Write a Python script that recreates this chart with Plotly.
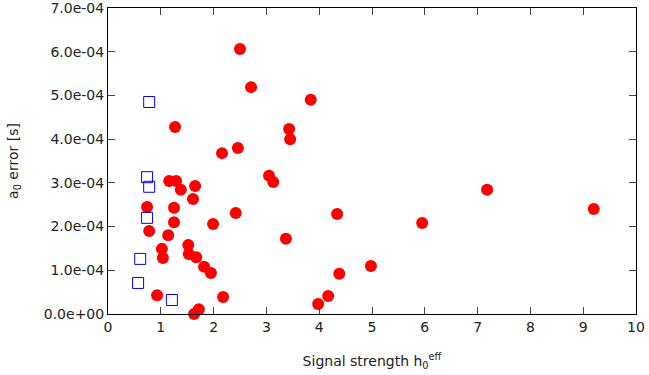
import plotly.graph_objects as go

red_x = [2.50, 2.71, 3.84, 1.27, 3.43, 3.45, 2.46, 2.16, 3.05, 3.13, 7.18, 1.16, 1.29, 1.38,
         1.65, 1.61, 0.74, 1.25, 1.25, 1.99, 2.42, 4.34, 5.95, 9.20, 0.78, 1.14, 3.37, 1.02,
         1.04, 1.52, 1.53, 1.67, 1.82, 1.95, 0.93, 2.18, 1.63, 1.72, 4.98, 4.38, 4.17, 3.98]
red_y = [6.06, 5.19, 4.90, 4.28, 4.23, 4.00, 3.80, 3.68, 3.16, 3.02, 2.84, 3.04, 3.04, 2.84,
         2.93, 2.63, 2.45, 2.43, 2.10, 2.06, 2.31, 2.29, 2.08, 2.40, 1.90, 1.80, 1.72, 1.49,
         1.28, 1.58, 1.37, 1.30, 1.08, 0.94, 0.43, 0.39, 0.00, 0.11, 1.10, 0.92, 0.41, 0.23]
red_y = [v * 1e-4 for v in red_y]

blue_x = [0.78, 0.74, 0.78, 0.74, 0.61, 0.57, 1.21]
blue_y = [4.85, 3.13, 2.91, 2.20, 1.26, 0.71, 0.32]
blue_y = [v * 1e-4 for v in blue_y]

x_ticks = [0, 1, 2, 3, 4, 5, 6, 7, 8, 9, 10]
y_ticks = [0, 1e-4, 2e-4, 3e-4, 4e-4, 5e-4, 6e-4, 7e-4]
y_tick_labels = ["0.0e+00", "1.0e-04", "2.0e-04", "3.0e-04", "4.0e-04", "5.0e-04", "6.0e-04", "7.0e-04"]

fig = go.Figure()
fig.add_trace(go.Scatter(x=red_x, y=red_y, mode="markers",
                         marker=dict(symbol="circle", size=12, color="#ff0000", line=dict(width=0)),
                         cliponaxis=False, showlegend=False))
fig.add_trace(go.Scatter(x=blue_x, y=blue_y, mode="markers",
                         marker=dict(symbol="square-open", size=11, color="#0000ff", line=dict(width=1)),
                         cliponaxis=False, showlegend=False))

axis_common = dict(showgrid=False, zeroline=False, showline=True, linecolor="black", linewidth=1,
                   mirror="ticks", ticks="inside", ticklen=7, tickcolor="#444444", tickwidth=1,
                   automargin=False, ticklabeloverflow="allow",
                   tickfont=dict(family="DejaVu Sans", size=14, color="#222222"))

fig.update_layout(
    width=649, height=375,
    margin=dict(l=108, r=13, t=8, b=61),
    paper_bgcolor="white", plot_bgcolor="white",
    font=dict(family="DejaVu Sans", size=14, color="#222222"),
    xaxis=dict(range=[0, 10.0001], tickvals=x_ticks, ticktext=[str(v) for v in x_ticks],
               title=dict(text="Signal strength h<sub>0</sub><sup>eff</sup>", standoff=22,
                          font=dict(family="DejaVu Sans", size=14)),
               **axis_common),
    yaxis=dict(range=[0, 7.0001e-4], tickvals=y_ticks, ticktext=y_tick_labels,
               title=dict(text="a<sub>0</sub> error [s]", standoff=21,
                          font=dict(family="DejaVu Sans", size=14)),
               **axis_common),
)

fig.write_html("out.html", config={"displayModeBar": False})
with open("out.html", "r", encoding="utf-8") as f:
    html = f.read()
html = html.replace("<body>", '<body style="margin:0;padding:0;">', 1)
html = html.replace("<head>", "<head><style>html,body{margin:0;padding:0;overflow:hidden;}</style>", 1)
with open("out.html", "w", encoding="utf-8") as f:
    f.write(html)
